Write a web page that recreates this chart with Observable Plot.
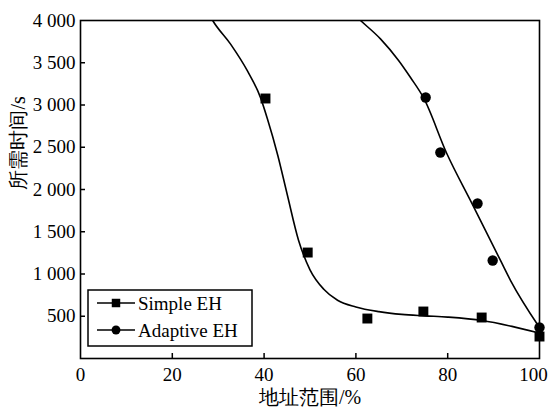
<!DOCTYPE html>
<html><head><meta charset="utf-8">
<script src="https://cdn.jsdelivr.net/npm/d3@7"></script>
<script src="https://cdn.jsdelivr.net/npm/@observablehq/plot@0.6"></script>
<style>
body{margin:0;background:#fff}
</style>
</head><body><div id="chart"></div>
<script>
// ---- data ----
const xTicks = [0, 20, 40, 60, 80, 100];
const yTicks = [500, 1000, 1500, 2000, 2500, 3000, 3500, 4000];
const seriesNames = ["Simple EH", "Adaptive EH"];
const xTitle = "地址范围/%";
const yTitle = "所需时间/s";

const simpleX = [40.3, 49.5, 62.5, 74.7, 87.4, 100];
const simpleY = [3077, 1254, 473, 556, 485, 260];
const adaptiveX = [75.2, 78.4, 86.5, 89.8, 100];
const adaptiveY = [3089, 2438, 1834, 1160, 367];

// fitted curves
const simpleFitX = [26, 28.8, 32.7, 36.4, 39.2, 40.7, 43, 45, 47.5, 50, 53, 56, 60, 65, 70, 75, 80, 87.5, 94, 100];
const simpleFitY = [4300, 4000, 3720, 3400, 3090, 2840, 2400, 1950, 1400, 1050, 820, 690, 610, 555, 522, 505, 490, 450, 380, 300];
const adaptiveFitX = [58, 61, 65.4, 69.3, 71.9, 74.7, 79.8, 85.3, 91.5, 93.7, 100];
const adaptiveFitY = [4150, 4000, 3780, 3527, 3325, 3089, 2426, 1834, 1160, 923, 367];

const simplePts = simpleX.map((x, i) => ({x, y: simpleY[i]}));
const adaptivePts = adaptiveX.map((x, i) => ({x, y: adaptiveY[i]}));
const simpleFit = simpleFitX.map((x, i) => ({x, y: simpleFitY[i]}));
const adaptiveFit = adaptiveFitX.map((x, i) => ({x, y: adaptiveFitY[i]}));

const fmt = d3.formatLocale({decimal: ".", thousands: " ", grouping: [3], currency: ["", ""]}).format(",");
const FONT = '"Liberation Serif", Tinos, "Times New Roman", Times, "Nimbus Roman", "Noto Serif", FreeSerif, "DejaVu Serif", serif';

const W = 550, H = 407, mT = 20, mB = 49, mL = 80, mR = 11;
const frameW = W - mL - mR, frameH = H - mT - mB;

const chart = Plot.plot({
  width: W, height: H,
  marginTop: mT, marginBottom: mB, marginLeft: mL, marginRight: mR,
  style: {fontSize: "19px", color: "black", background: "white"},
  x: {domain: [0, 100]},
  y: {domain: [0, 4000]},
  marks: [
    Plot.axisX({ticks: xTicks.slice(0, -1), tickSize: 0, tickPadding: 9, label: null}),
    Plot.axisX({ticks: xTicks.slice(-1), tickSize: 0, tickPadding: 9, label: null, dx: -6}),
    Plot.axisY({ticks: yTicks, tickSize: 0, tickPadding: 5, tickFormat: fmt, label: null}),
    Plot.ruleX(xTicks.slice(1, -1), {insetTop: frameH - 5, strokeWidth: 1.5}),
    Plot.ruleY(yTicks.slice(0, -1), {insetRight: frameW - 5, strokeWidth: 1.5}),
    Plot.line(simpleFit, {x: "x", y: "y", curve: "monotone-x", stroke: "black", strokeWidth: 1.6, clip: true}),
    Plot.line(adaptiveFit, {x: "x", y: "y", curve: "monotone-x", stroke: "black", strokeWidth: 1.6, clip: true}),
    Plot.dot(simplePts, {x: "x", y: "y", symbol: "square", r: 5.6, fill: "black", stroke: "none"}),
    Plot.dot(adaptivePts, {x: "x", y: "y", symbol: "circle", r: 5.2, fill: "black", stroke: "none"}),
    Plot.frame({stroke: "black", strokeWidth: 1.6}),
    Plot.text([xTitle], {frameAnchor: "bottom", dy: 39, lineAnchor: "middle", fontSize: 20, fill: "black"}),
    Plot.text([yTitle], {frameAnchor: "left", dx: -62, rotate: -90, lineAnchor: "middle", fontSize: 20, fill: "black"})
  ]
});

// legend box
const svg = d3.select(chart);
const lg = svg.append("g").attr("font-size", 19).attr("text-anchor", "start");
lg.append("rect").attr("x", 88).attr("y", 290).attr("width", 164).attr("height", 56)
  .attr("fill", "white").attr("stroke", "black").attr("stroke-width", 1.5);
const symbols = [d3.symbolSquare, d3.symbolCircle];
const sizes = [72, 62];
seriesNames.forEach((name, i) => {
  const cy = 303 + i * 27;
  lg.append("line").attr("x1", 97).attr("x2", 135).attr("y1", cy).attr("y2", cy)
    .attr("stroke", "black").attr("stroke-width", 1.6);
  lg.append("path").attr("d", d3.symbol(symbols[i], sizes[i])())
    .attr("transform", `translate(116,${cy})`).attr("fill", "black");
  lg.append("text").attr("x", 138).attr("y", cy).attr("dy", "0.35em")
    .attr("text-anchor", "start").attr("fill", "black").text(name);
});
svg.selectAll("text").attr("font-family", FONT).style("font-family", FONT);

document.getElementById("chart").appendChild(chart);
</script>
</body></html>
